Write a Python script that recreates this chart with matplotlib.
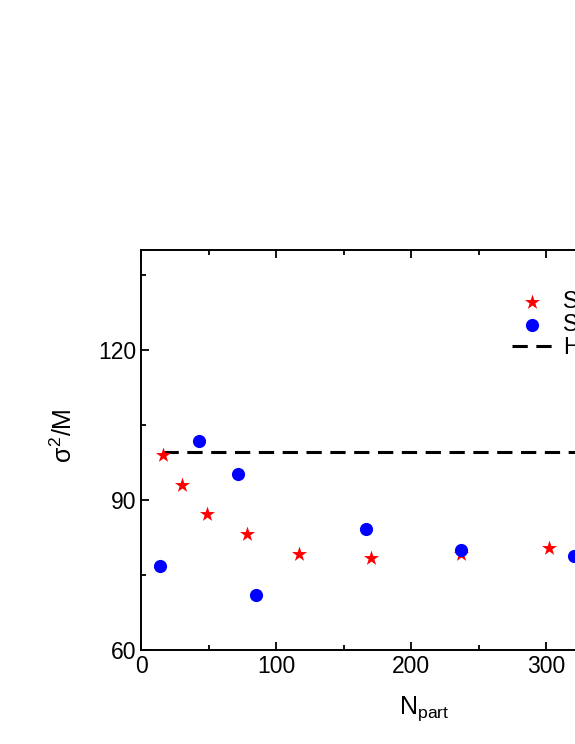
import numpy as np
import matplotlib.pyplot as plt
from matplotlib.ticker import MultipleLocator

plt.rcParams['font.family'] = ['Liberation Sans', 'DejaVu Sans']
plt.rcParams['mathtext.fontset'] = 'custom'
plt.rcParams['mathtext.rm'] = 'Liberation Sans'
plt.rcParams['mathtext.it'] = 'Liberation Sans'

# STAR-like points (red stars)
star_npart = [16.5, 30, 48.6, 78.3, 117.3, 170.4, 237, 302.2]
star_vals = [99.0, 93.0, 87.2, 83.2, 79.2, 78.5, 79.2, 80.5]

# model points (blue circles)
circ_npart = [14.1, 43, 72.1, 85.2, 166.4, 237, 320.7]
circ_vals = [76.8, 101.9, 95.2, 71.1, 84.3, 80.0, 78.9]

# HRG reference
hrg_npart = [16.5, 420]
hrg_vals = [99.7, 99.7]

fig = plt.figure(figsize=(5.75, 7.44), dpi=100)
# axes run past the right edge of the picture, as in the reference
ax = fig.add_axes([141/575, 94/744, 567/575, 400/744])

ax.scatter(star_npart, star_vals, marker='*', s=130, color='red', linewidths=0,
           label='STAR', zorder=3)
ax.scatter(circ_npart, circ_vals, marker='o', s=90, color='blue', linewidths=0,
           label='SMASH', zorder=3)
ax.plot(hrg_npart, hrg_vals, color='black', ls=(0, (5, 2.8)), lw=2.2,
        label='HRG', zorder=2)

ax.set_xlim(0, 420)
ax.set_ylim(60, 140)
ax.xaxis.set_major_locator(MultipleLocator(100))
ax.xaxis.set_minor_locator(MultipleLocator(50))
ax.yaxis.set_major_locator(MultipleLocator(30))
ax.yaxis.set_minor_locator(MultipleLocator(15))
ax.tick_params(which='both', direction='in', top=True, right=True, width=1.3)
ax.tick_params(which='major', length=6, labelsize=16.5)
ax.tick_params(which='minor', length=3.5)
for sp in ax.spines.values():
    sp.set_linewidth(1.4)

ax.set_xlabel(r'N$_{\rm part}$', fontsize=18, labelpad=12)
ax.set_ylabel(r'$\sigma^2$/M', fontsize=18)
ax.yaxis.set_label_coords(-0.112, 0.535)

ax.legend(loc='upper left', bbox_to_anchor=(0.654, 0.9), frameon=False,
          fontsize=16.5, handlelength=1.75, handletextpad=0.5, labelspacing=0.0,
          borderaxespad=0, borderpad=0)

fig.savefig('out.png', dpi=100)
